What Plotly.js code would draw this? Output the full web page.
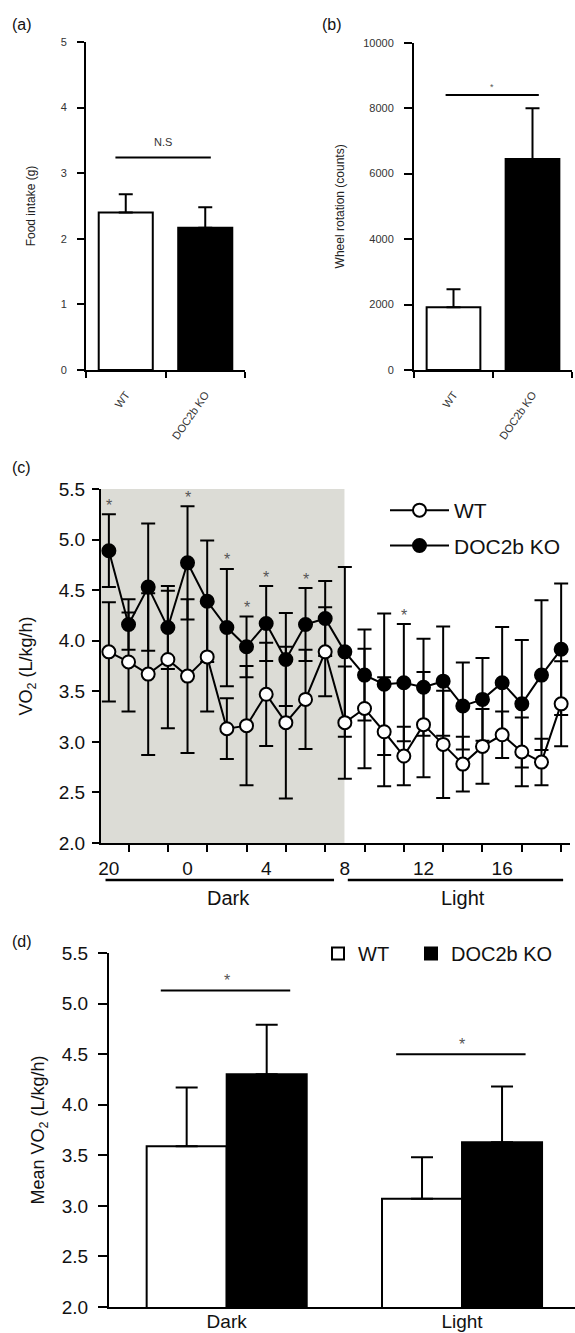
<!DOCTYPE html>
<html><head><meta charset="utf-8">
<script src="https://cdn.plot.ly/plotly-3.0.1.min.js"></script>
<style>body{margin:0;background:#fff}#chart{width:575px;height:1333px}</style>
</head><body><div id="chart"></div>
<script>
// ---------- data ----------
// (a) food intake
const groups = ['WT', 'DOC2b KO'];
const foodIntake = [2.40, 2.17];
const foodIntakeErr = [0.28, 0.31];
// (b) wheel rotation
const wheelRotation = [1920, 6450];
const wheelRotationErr = [550, 1550];
// (c) VO2 time course (hour of day)
const hours = ['20','21','22','23','0','1','2','3','4','5','6','7','8','9','10','11','12','13','14','15','16','17','18','19'];
const vo2WT = [3.89,3.79,3.67,3.815,3.65,3.84,3.13,3.16,3.47,3.19,3.42,3.89,3.19,3.33,3.10,2.86,3.17,2.975,2.78,2.955,3.07,2.90,2.80,3.376];
const vo2WTErr = [0.49,0.49,0.80,0.68,0.76,0.54,0.30,0.59,0.51,0.75,0.49,0.44,0.555,0.59,0.54,0.29,0.52,0.53,0.27,0.37,0.23,0.34,0.23,0.42];
const vo2KO = [4.89,4.16,4.53,4.13,4.77,4.39,4.13,3.94,4.17,3.815,4.16,4.22,3.89,3.66,3.57,3.585,3.54,3.60,3.355,3.42,3.585,3.376,3.66,3.915];
const vo2KOErr = [0.36,0.25,0.63,0.41,0.56,0.60,0.58,0.30,0.37,0.46,0.36,0.37,0.84,0.45,0.70,0.58,0.48,0.54,0.43,0.41,0.55,0.63,0.74,0.65];
const significantHours = ['20','0','2','3','4','6','11'];
const hourTickLabels = ['20','0','4','8','12','16'];
const lightStartHour = '8';
// (d) mean VO2
const phases = ['Dark', 'Light'];
const meanWT = [3.59, 3.07];
const meanWTErr = [0.58, 0.41];
const meanKO = [4.30, 3.63];
const meanKOErr = [0.49, 0.55];

// ---------- layout helpers ----------
const W = 575, H = 1333;
const fx = v => v / W, fy = v => 1 - v / H;
const FONT = 'Liberation Sans, Arial, sans-serif';
const hx = hours.map((h, i) => i);
const idx = h => hours.indexOf(h);

const axisBase = {showline: true, linecolor: '#000', linewidth: 2, ticks: 'outside', tickwidth: 2,
  tickcolor: '#000', showgrid: false, zeroline: false, fixedrange: true, automargin: false};

const traces = [];
// (a)
traces.push({type: 'bar', x: groups, y: foodIntake, xaxis: 'x', yaxis: 'y', showlegend: false,
  marker: {color: ['#ffffff', '#000000'], line: {color: '#000', width: 2}},
  error_y: {type: 'data', symmetric: false, array: foodIntakeErr, arrayminus: [0, 0], color: '#000', thickness: 2, width: 7}});
// (b)
traces.push({type: 'bar', x: groups, y: wheelRotation, xaxis: 'x2', yaxis: 'y2', showlegend: false,
  marker: {color: ['#ffffff', '#000000'], line: {color: '#000', width: 2}},
  error_y: {type: 'data', symmetric: false, array: wheelRotationErr, arrayminus: [0, 0], color: '#000', thickness: 2, width: 7}});
// (c) error bars under all markers
traces.push({type: 'scatter', mode: 'markers', x: hx, y: vo2WT, xaxis: 'x3', yaxis: 'y3', showlegend: false,
  marker: {size: 2, color: 'rgba(0,0,0,0)'}, hoverinfo: 'skip',
  error_y: {type: 'data', array: vo2WTErr, color: '#000', thickness: 2, width: 7}});
traces.push({type: 'scatter', mode: 'markers', x: hx, y: vo2KO, xaxis: 'x3', yaxis: 'y3', showlegend: false,
  marker: {size: 2, color: 'rgba(0,0,0,0)'}, hoverinfo: 'skip',
  error_y: {type: 'data', array: vo2KOErr, color: '#000', thickness: 2, width: 7}});
traces.push({type: 'scatter', mode: 'lines+markers', name: 'DOC2b KO', x: hx, y: vo2KO, xaxis: 'x3', yaxis: 'y3',
  legend: 'legend2', legendrank: 2, legendgroup: 'ko',
  line: {color: '#000', width: 2}, marker: {size: 13, color: '#000', line: {color: '#000', width: 2}}});
traces.push({type: 'scatter', mode: 'lines+markers', name: 'WT', x: hx, y: vo2WT, xaxis: 'x3', yaxis: 'y3',
  legend: 'legend2', legendrank: 1, legendgroup: 'wt',
  line: {color: '#000', width: 2}, marker: {size: 13, color: '#fff', line: {color: '#000', width: 2}}});
// (d)
traces.push({type: 'bar', name: 'WT', x: phases, y: meanWT, xaxis: 'x4', yaxis: 'y4', legend: 'legend3',
  marker: {color: '#fff', line: {color: '#000', width: 2}},
  error_y: {type: 'data', symmetric: false, array: meanWTErr, arrayminus: [0, 0], color: '#000', thickness: 2, width: 11}});
traces.push({type: 'bar', name: 'DOC2b KO', x: phases, y: meanKO, xaxis: 'x4', yaxis: 'y4', legend: 'legend4',
  marker: {color: '#000', line: {color: '#000', width: 2}},
  error_y: {type: 'data', symmetric: false, array: meanKOErr, arrayminus: [0, 0], color: '#000', thickness: 2, width: 11}});

const smallTick = {family: FONT, size: 11, color: '#333'};
const bigTick = {family: FONT, size: 19, color: '#111'};

const shapes = [];
const annotations = [];
// significance bars
const sigA = {lvl: 3.24, from: -0.13, to: 1.07, txt: 'N.S'};
const sigB = {lvl: 8400, from: -0.1, to: 1.08, txt: '*'};
shapes.push({type: 'line', xref: 'x', yref: 'y', x0: sigA.from, x1: sigA.to, y0: sigA.lvl, y1: sigA.lvl, line: {color: '#000', width: 2}});
annotations.push({xref: 'x', yref: 'y', x: (sigA.from + sigA.to) / 2, y: sigA.lvl, yshift: 15, yanchor: 'middle', text: sigA.txt, showarrow: false, font: {family: FONT, size: 11, color: '#333'}});
shapes.push({type: 'line', xref: 'x2', yref: 'y2', x0: sigB.from, x1: sigB.to, y0: sigB.lvl, y1: sigB.lvl, line: {color: '#000', width: 2}});
annotations.push({xref: 'x2', yref: 'y2', x: (sigB.from + sigB.to) / 2, y: sigB.lvl, yshift: 8, yanchor: 'middle', text: sigB.txt, showarrow: false, font: {family: FONT, size: 9, color: '#555'}});
const sigD = [{lvl: 5.13, c: 0}, {lvl: 4.5, c: 1}];
sigD.forEach(s => {
  shapes.push({type: 'line', xref: 'x4', yref: 'y4', x0: s.c - 0.28, x1: s.c + 0.27, y0: s.lvl, y1: s.lvl, line: {color: '#000', width: 2}});
  annotations.push({xref: 'x4', yref: 'y4', x: s.c, y: s.lvl, yshift: 10, yanchor: 'middle', text: '*', showarrow: false, font: {family: FONT, size: 16, color: '#555'}});
});
// (c) dark shading
const xRangeC = [-0.4, 23.45];
shapes.push({type: 'rect', xref: 'x3', yref: 'y3', layer: 'below', x0: xRangeC[0], x1: idx(lightStartHour) - 0.02, y0: 2, y1: 5.5,
  fillcolor: '#dcdcd6', line: {width: 0}});
// (c) stars
significantHours.forEach(h => {
  const i = idx(h);
  annotations.push({xref: 'x3', yref: 'y3', x: i, y: vo2KO[i] + vo2KOErr[i], yshift: 9, yanchor: 'middle', text: '*', showarrow: false,
    font: {family: FONT, size: 16, color: '#555'}});
});
// Dark / Light period bars under the axis
const periodY = fy(880);
shapes.push({type: 'line', xref: 'x3', yref: 'paper', x0: -0.17, x1: 11.45, y0: periodY, y1: periodY, line: {color: '#000', width: 2.5}});
shapes.push({type: 'line', xref: 'x3', yref: 'paper', x0: 12.15, x1: 23.1, y0: periodY, y1: periodY, line: {color: '#000', width: 2.5}});
annotations.push({xref: 'x3', yref: 'paper', x: 6.1, y: fy(898), yanchor: 'middle', text: 'Dark', showarrow: false, font: {family: FONT, size: 20, color: '#111'}});
annotations.push({xref: 'x3', yref: 'paper', x: 18.0, y: fy(898), yanchor: 'middle', text: 'Light', showarrow: false, font: {family: FONT, size: 20, color: '#111'}});
// panel labels
[['(a)', 10, 25], ['(b)', 320, 25], ['(c)', 10, 468], ['(d)', 10, 942]].forEach(p => {
  annotations.push({xref: 'paper', yref: 'paper', x: fx(p[1]), y: fy(p[2]), xanchor: 'left', yanchor: 'middle', text: p[0], showarrow: false,
    font: {family: FONT, size: 16, color: '#111'}});
});

const legendD = {xanchor: 'left', yanchor: 'top', bgcolor: 'rgba(255,255,255,0)', font: {family: FONT, size: 20, color: '#111'}, itemwidth: 30};

const layout = {
  width: W, height: H, margin: {l: 0, r: 0, t: 0, b: 0, autoexpand: false},
  paper_bgcolor: '#fff', plot_bgcolor: 'rgba(0,0,0,0)',
  font: {family: FONT, color: '#111'},
  barmode: 'group', bargap: 0.32, bargroupgap: 0,
  xaxis: Object.assign({}, axisBase, {domain: [fx(86), fx(245)], anchor: 'y', type: 'category', tickson: 'boundaries',
    range: [-0.5, 1.5], ticklen: 6, tickangle: -55, tickfont: smallTick, ticklabelstandoff: 12}),
  yaxis: Object.assign({}, axisBase, {domain: [fy(370), fy(42)], anchor: 'x', range: [0, 5], dtick: 1, ticklen: 7, tickfont: smallTick, ticklabelstandoff: 8,
    title: {text: 'Food intake (g)', font: {family: FONT, size: 12, color: '#222'}, standoff: 22}}),
  xaxis2: Object.assign({}, axisBase, {domain: [fx(414), fx(572)], anchor: 'y2', type: 'category', tickson: 'boundaries',
    range: [-0.5, 1.5], ticklen: 6, tickangle: -55, tickfont: smallTick, ticklabelstandoff: 12}),
  yaxis2: Object.assign({}, axisBase, {domain: [fy(370), fy(42.7)], anchor: 'x2', range: [0, 10000], dtick: 2000, tickformat: 'd', ticklen: 8, tickfont: smallTick, ticklabelstandoff: 8,
    title: {text: 'Wheel rotation (counts)', font: {family: FONT, size: 12, color: '#222'}, standoff: 16}}),
  xaxis3: Object.assign({}, axisBase, {domain: [fx(101), fx(570)], anchor: 'y3', range: xRangeC,
    tickmode: 'array', tickvals: hourTickLabels.map(idx), ticktext: hourTickLabels, ticklen: 7, tickcolor: 'rgba(0,0,0,0)', tickfont: bigTick,
    minor: {tickmode: 'linear', tick0: 1, dtick: 2, ticks: 'outside', ticklen: 7, tickwidth: 2, tickcolor: '#000'}}),
  yaxis3: Object.assign({}, axisBase, {domain: [fy(843), fy(489)], anchor: 'x3', range: [2, 5.5], dtick: 0.5, tickformat: '.1f', ticklen: 7, tickfont: bigTick, ticklabelstandoff: 3,
    title: {text: 'VO<sub>2</sub> (L/kg/h)', font: {family: FONT, size: 18, color: '#111'}, standoff: 21}}),
  xaxis4: Object.assign({}, axisBase, {domain: [fx(109), 1], anchor: 'y4', type: 'category', range: [-0.5, 1.48], ticks: '', ticklabelstandoff: -4,
    tickfont: {family: FONT, size: 19, color: '#111'}}),
  yaxis4: Object.assign({}, axisBase, {domain: [fy(1307), fy(953)], anchor: 'x4', range: [2, 5.5], dtick: 0.5, tickformat: '.1f', ticklen: 9, tickfont: bigTick, ticklabelstandoff: 6,
    title: {text: 'Mean VO<sub>2</sub> (L/kg/h)', font: {family: FONT, size: 18, color: '#111'}, standoff: 12}}),
  legend2: {x: fx(385), y: fy(490), xanchor: 'left', yanchor: 'top', bgcolor: 'rgba(255,255,255,0)', font: {family: FONT, size: 21, color: '#111'},
    traceorder: 'grouped', itemwidth: 59, tracegroupgap: 5},
  legend3: Object.assign({}, legendD, {x: fx(318), y: fy(934)}),
  legend4: Object.assign({}, legendD, {x: fx(411), y: fy(934)}),
  shapes: shapes, annotations: annotations, showlegend: true
};

Plotly.newPlot('chart', traces, layout, {displayModeBar: false, staticPlot: true});
</script>
</body></html>
